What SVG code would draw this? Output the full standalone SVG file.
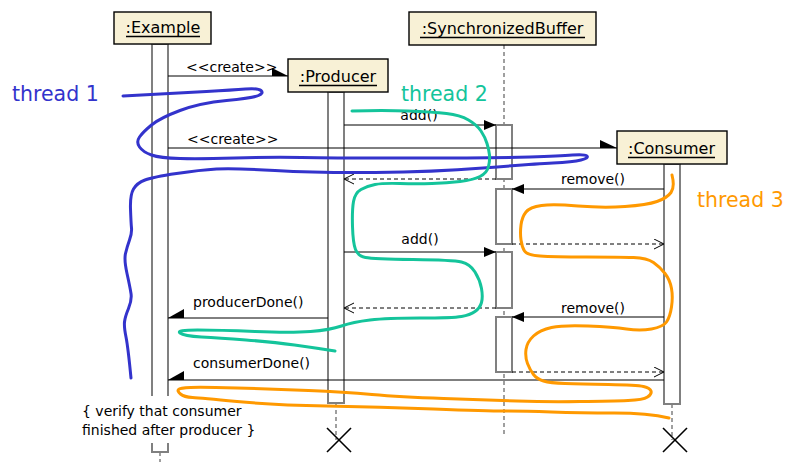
<svg xmlns="http://www.w3.org/2000/svg" width="790" height="462" viewBox="0 0 790 462">
<defs>
<style>
.box{fill:#F8F1D6;stroke:#000;stroke-width:1.4}
.lbl{font-family:"DejaVu Sans","Liberation Sans",sans-serif;font-size:16px;fill:#000;text-anchor:middle}
.ul{stroke:#000;stroke-width:1.6}
.msg{font-family:"DejaVu Sans","Liberation Sans",sans-serif;font-size:14px;fill:#000}
.mid{text-anchor:middle}
.bar{fill:#fff;stroke:#808080;stroke-width:2}
.life{stroke:#808080;stroke-width:1.5;stroke-dasharray:4 3;fill:none}
.call{stroke:#000;stroke-width:1;fill:none}
.ret{stroke:#000;stroke-width:1;fill:none;stroke-dasharray:4 3}
.head{fill:#000;stroke:none}
.x{stroke:#000;stroke-width:1.6}
.thr{fill:none;stroke-width:3;stroke-linecap:round;stroke-linejoin:round}
.hand{font-family:"DejaVu Sans",sans-serif;font-size:20.5px}
</style>
<marker id="fill" markerUnits="userSpaceOnUse" markerWidth="13" markerHeight="11" refX="12" refY="5" orient="auto">
<path d="M0,0 L12,5 L0,10 z" fill="#000"/>
</marker>
<marker id="open" markerUnits="userSpaceOnUse" markerWidth="12" markerHeight="12" refX="10.5" refY="5.5" orient="auto">
<path d="M0.5,0.5 L10.5,5.5 L0.5,10.5" fill="none" stroke="#000" stroke-width="1"/>
</marker>
</defs>
<rect width="790" height="462" fill="#fff"/>

<g id="lifelines">
<line class="life" x1="504" y1="45" x2="504" y2="437"/>
<line class="life" x1="336" y1="403" x2="336" y2="440"/>
<line class="life" x1="672" y1="404" x2="672" y2="440"/>
<line class="life" x1="160" y1="452" x2="160" y2="462"/>
</g>

<g id="example">
<rect class="bar" x="152" y="44" width="16" height="408"/>
<rect x="148" y="396" width="24" height="47" fill="#fff"/>
<rect class="box" x="114" y="12" width="97" height="32"/>
<text class="lbl" x="163" y="33">:Example</text>
<line class="ul" x1="126" y1="36.5" x2="200" y2="36.5"/>
</g>

<g id="producer">
<rect class="bar" x="328" y="92" width="16" height="311"/>
<rect class="box" x="288" y="59" width="100" height="33"/>
<text class="lbl" x="338" y="82">:Producer</text>
<line class="ul" x1="299" y1="85.5" x2="377" y2="85.5"/>
<line class="x" x1="327" y1="428" x2="351" y2="452"/>
<line class="x" x1="351" y1="428" x2="327" y2="452"/>
</g>

<g id="buffer">
<rect class="bar" x="496" y="125" width="16" height="54"/>
<rect class="bar" x="496" y="189" width="16" height="55"/>
<rect class="bar" x="496" y="252" width="16" height="56"/>
<rect class="bar" x="496" y="317" width="16" height="55"/>
<rect class="box" x="409" y="12" width="187" height="33"/>
<text class="lbl" x="502.5" y="34">:SynchronizedBuffer</text>
<line class="ul" x1="420" y1="37.5" x2="585" y2="37.5"/>
</g>

<g id="consumer">
<rect class="bar" x="664" y="164" width="16" height="240"/>
<rect class="box" x="617" y="131" width="110" height="33"/>
<text class="lbl" x="671.5" y="154">:Consumer</text>
<line class="ul" x1="628" y1="157.5" x2="715" y2="157.5"/>
<line class="x" x1="663" y1="428" x2="687" y2="452"/>
<line class="x" x1="687" y1="428" x2="663" y2="452"/>
</g>

<g id="connectors">
<line class="call" x1="168" y1="76" x2="288" y2="76"/>
<polygon class="head" points="272,68 288,76 272,76"/>
<text class="msg" x="186" y="72">&lt;&lt;create&gt;&gt;</text>

<line class="call" x1="344" y1="125" x2="496" y2="125" marker-end="url(#fill)"/>
<text class="msg mid" x="419" y="120">add()</text>

<line class="call" x1="168" y1="148" x2="617" y2="148"/>
<polygon class="head" points="600,140 617,148 600,148"/>
<text class="msg" x="187" y="144">&lt;&lt;create&gt;&gt;</text>

<line class="ret" x1="496" y1="179" x2="344" y2="179" marker-end="url(#open)"/>

<line class="call" x1="664" y1="189" x2="512" y2="189" marker-end="url(#fill)"/>
<text class="msg mid" x="593" y="184">remove()</text>

<line class="ret" x1="512" y1="244" x2="664" y2="244" marker-end="url(#open)"/>

<line class="call" x1="344" y1="252" x2="496" y2="252" marker-end="url(#fill)"/>
<text class="msg mid" x="420" y="244">add()</text>

<line class="ret" x1="496" y1="308" x2="344" y2="308" marker-end="url(#open)"/>

<line class="call" x1="664" y1="317" x2="512" y2="317" marker-end="url(#fill)"/>
<text class="msg mid" x="593" y="313">remove()</text>

<line class="call" x1="328" y1="318" x2="168" y2="318"/>
<polygon class="head" points="168,318 184,309 184,318"/>
<text class="msg" x="193" y="307">producerDone()</text>

<line class="ret" x1="512" y1="372" x2="664" y2="372" marker-end="url(#open)"/>

<line class="call" x1="664" y1="380" x2="168" y2="380"/>
<polygon class="head" points="168,380 184,371 184,380"/>
<text class="msg" x="193" y="368">consumerDone()</text>
</g>

<g id="note">
<text class="msg" x="82" y="416">{ verify that consumer</text>
<text class="msg" x="82" y="435">finished after producer }</text>
</g>

<g id="thread1">
<path class="thr" stroke="#3333CC" d="M123,96 Q180,93 206.5,91.5 Q233,90 245.5,89 Q258,88 261,90.5 Q264,93 258.5,95.5 Q253,98 226.5,100.5 Q200,103 180,110.5 Q160,118 151.5,125 Q143,132 139.5,137 Q136,142 139.5,147 Q143,152 151.5,155 Q160,158 180,158.5 Q200,159 235,158 Q270,157 301.5,157.5 Q333,158 383,158 Q433,158 466.5,158 Q500,158 530,157 Q560,156 572.5,155 Q585,154 587,156 Q589,158 581,160 Q573,162 553,163 Q533,164 483,168 Q433,172 375,172.5 Q317,173 275,170.5 Q233,168 216.5,169 Q200,170 176.5,173.5 Q153,177 145,180 Q137,183 133.5,189 Q130,195 130.5,209 Q131,223 131.5,228 Q132,233 129.5,240 Q127,247 125.5,253.5 Q124,260 127,273.5 Q130,287 131,293.5 Q132,300 128.5,308.5 Q125,317 124.5,322 Q124,327 126,337 Q128,347 131,378"/>
<text class="hand" x="12" y="101" fill="#3333CC">thread 1</text>
</g>

<g id="thread2">
<path class="thr" stroke="#14C49B" d="M352,111 Q383,110 408,111 Q433,112 446.5,113.5 Q460,115 468.5,120 Q477,125 481,131 Q485,137 487,143.5 Q489,150 489.5,155 Q490,160 488.5,166.5 Q487,173 480,176.5 Q473,180 460,181.5 Q447,183 432,183.5 Q417,184 400,183.5 Q383,183 375,184.5 Q367,186 361,189.5 Q355,193 353.5,201.5 Q352,210 352.5,226.5 Q353,243 355.5,249.5 Q358,256 365.5,257.5 Q373,259 413,259.5 Q453,260 461.5,262 Q470,264 475,272 Q480,280 481.5,288.5 Q483,297 481.5,302.5 Q480,308 475,311.5 Q470,315 461.5,316.5 Q453,318 420,318 Q387,318 370,320 Q353,322 341.5,326 Q330,330 310.5,331.5 Q291,333 255,331.5 Q219,330 197.5,330 Q176,330 180,333 Q184,336 201.5,337 Q219,338 246,340 Q273,342 294.5,345 Q316,348 335,351"/>
<text class="hand" x="401" y="101" fill="#14C49B">thread 2</text>
</g>

<g id="thread3">
<path class="thr" stroke="#FF9900" d="M672,175 Q675,187 671,192.5 Q667,198 657,201.5 Q647,205 625,206.5 Q603,208 578,206 Q553,204 541.5,205.5 Q530,207 526,212 Q522,217 521,225 Q520,233 521,240 Q522,247 524.5,251 Q527,255 540,256 Q553,257 586.5,257 Q620,257 633.5,257.5 Q647,258 653.5,262.5 Q660,267 665,273.5 Q670,280 671.5,288.5 Q673,297 671.5,307 Q670,317 666.5,322 Q663,327 651.5,329 Q640,331 626.5,329 Q613,327 588,326 Q563,325 551.5,327.5 Q540,330 533.5,336 Q527,342 526,349.5 Q525,357 527.5,363.5 Q530,370 533.5,374.5 Q537,379 543.5,381 Q550,383 565,383.5 Q580,384 608.5,384.5 Q637,385 643.5,386.5 Q650,388 651,391 Q652,394 647.5,397 Q643,400 628,400.5 Q613,401 580,401.5 Q547,402 517,401 Q487,400 443.5,398.5 Q400,397 372,394.5 Q344,392 308.5,390.5 Q273,389 237,388 Q201,387 190.5,387.5 Q180,388 178.5,389.5 Q177,391 180.5,394 Q184,397 192.5,397.5 Q201,398 237,401.5 Q273,405 326.5,406 Q380,407 433.5,409 Q487,411 505,411 Q523,411 551.5,412 Q580,413 614,413 Q648,413 669,418"/>
<text class="hand" x="697" y="207" fill="#FF9900">thread 3</text>
</g>
</svg>
